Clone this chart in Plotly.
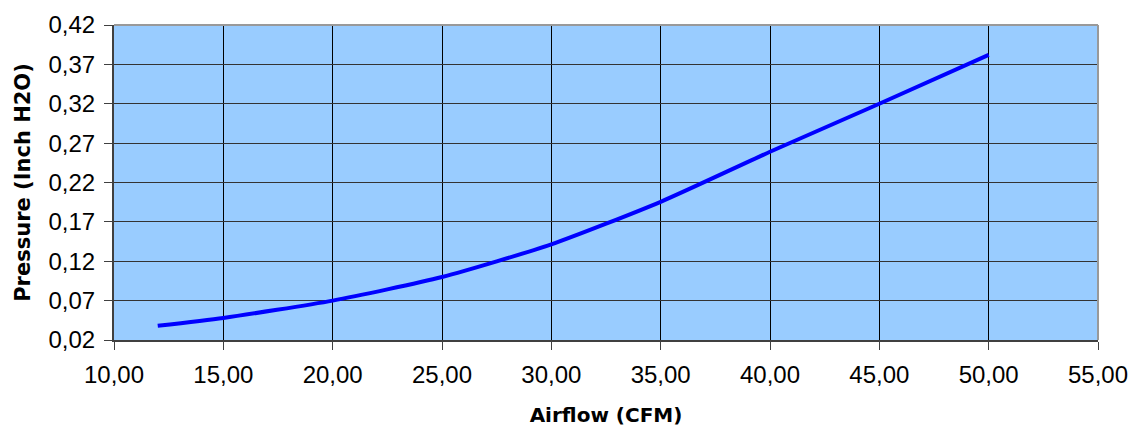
import plotly.graph_objects as go

airflow_cfm = [12, 15, 20, 25, 30, 35, 40, 45, 50]
pressure_inh2o = [0.038, 0.048, 0.070, 0.100, 0.1415, 0.1955, 0.259, 0.320, 0.382]

x_title = "Airflow (CFM)"
y_title = "Pressure (Inch H2O)"

fig = go.Figure()
fig.add_trace(go.Scatter(
    x=airflow_cfm, y=pressure_inh2o, mode="lines",
    line=dict(color="#0000FF", width=4, shape="spline", smoothing=0.6),
    showlegend=False, hoverinfo="x+y",
))

tick_font = dict(family="Liberation Sans, Arial, sans-serif", size=24, color="#000000")
x_title_font = dict(family="DejaVu Sans, Verdana, sans-serif", size=20, color="#000000")
y_title_font = dict(family="DejaVu Sans, Verdana, sans-serif", size=21, color="#000000")

fig.update_layout(
    width=1133, height=427,
    margin=dict(l=114, r=35, t=25, b=87, pad=0),
    paper_bgcolor="#FFFFFF",
    plot_bgcolor="#99CCFF",
    separators=",.",
    xaxis=dict(
        range=[10, 55], tick0=10, dtick=5, tickformat=".2f",
        showgrid=True, gridcolor="#000000", gridwidth=1,
        showline=True, linecolor="#404040", linewidth=2,
        ticks="outside", ticklen=8, tickcolor="#404040", tickwidth=1,
        tickfont=tick_font, zeroline=False, automargin=False,
        ticklabelstandoff=4,
        title=dict(text="<b>" + x_title + "</b>", font=x_title_font, standoff=34),
    ),
    yaxis=dict(
        range=[0.02, 0.42], tick0=0.02, dtick=0.05, tickformat=".2f",
        showgrid=True, gridcolor="#333333", gridwidth=1,
        showline=True, linecolor="#404040", linewidth=2,
        ticks="outside", ticklen=8, tickcolor="#404040", tickwidth=1,
        tickfont=tick_font, zeroline=False, automargin=False,
        ticklabelstandoff=4,
        title=dict(text="<b>" + y_title + "</b>", font=y_title_font, standoff=12),
    ),
    shapes=[
        dict(type="line", xref="paper", yref="paper", x0=0, x1=1, y0=1, y1=1,
             line=dict(color="#999999", width=2)),
        dict(type="line", xref="paper", yref="paper", x0=1, x1=1, y0=0, y1=1,
             line=dict(color="#999999", width=2)),
    ],
)

fig.write_html(
    "out.html",
    config={"displayModeBar": False},
    post_script="document.body.style.margin='0';document.body.style.overflow='hidden';",
)
